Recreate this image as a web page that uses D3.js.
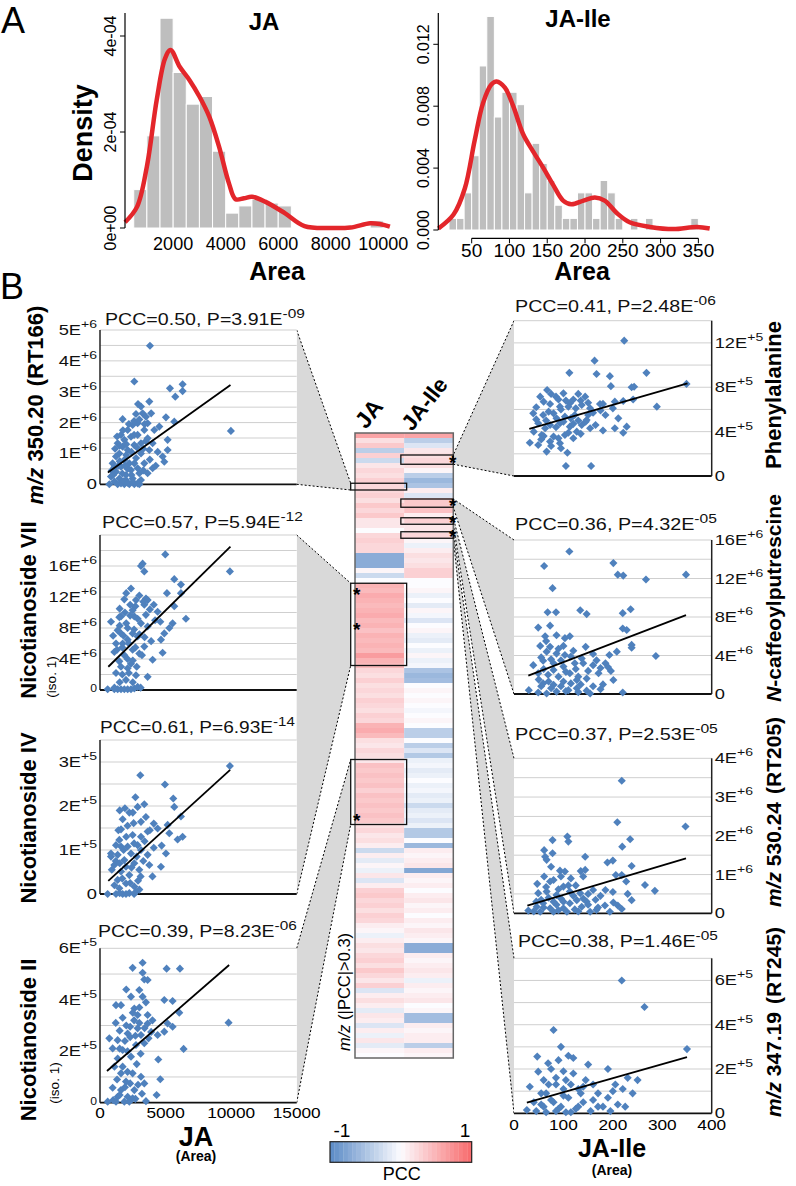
<!DOCTYPE html>
<html>
<head>
<meta charset="utf-8">
<script src="https://cdn.jsdelivr.net/npm/d3@7"></script>
<style>
body { margin: 0; background: #fff; }
svg text { font-family: "Liberation Sans", Arial, Helvetica, sans-serif; }
</style>
</head>
<body>
<svg id="fig" width="796" height="1186"></svg>
<script>
// ---------- panel A data (density: JA in 1e-4, JA-Ile in 1e-3) ----------
var jaBinStart = 500, jaBinWidth = 500;
var jaHist = [0.80, 1.92, 4.37, 3.24, 2.58, 2.74, 1.60, 0.31, 0.46, 0.60, 0.52, 0.46, 0, 0, 0, 0, 0, 0, 0.15];
var jaCurve = [[170,0.12],[625,0.44],[1000,1.28],[1375,2.67],[1690,3.53],[1900,3.71],[2250,3.36],[2625,3.08],[3000,2.74],[3375,2.32],[3750,1.69],[4125,0.93],[4375,0.60],[4700,0.62],[5000,0.65],[5500,0.55],[6250,0.31],[7000,0.04],[8000,0.0],[8750,0.01],[9500,0.10],[9900,0.08],[10250,0.03]];
var jaXTicks = [2000, 4000, 6000, 8000, 10000];
var jaYTicks = [0, 2, 4];
var jaYLabels = ['0e+00', '2e-04', '4e-04'];

var ileBinStart = 20, ileBinWidth = 10;
var ileHist = [0.75, 0.75, 2.4, 4.8, 10.6, 13.8, 7.3, 8.9, 8.9, 8.1, 2.4, 5.6, 4.3, 3.2, 1.6, 0.75, 0.75, 2.4, 2.4, 0.75, 3.2, 2.4, 0.75, 0, 0.75, 0, 0.75, 0, 0, 0, 0, 0, 0.75];
var ileCurve = [[6,0.1],[26,1.0],[41,2.7],[54,5.8],[65,8.2],[76,9.4],[83,9.6],[94,9.2],[105,8.0],[118,6.2],[131,5.1],[145,4.0],[158,2.9],[171,1.9],[182,1.66],[198,1.9],[213,2.1],[226,1.9],[242,1.1],[259,0.5],[286,0.2],[317,0.06],[348,0.2],[365,0.1]];
var ileXTicks = [50, 100, 150, 200, 250, 300, 350];
var ileYTicks = [0, 4, 8, 12];
var ileYLabels = ['0.000', '0.004', '0.008', '0.012'];

// ---------- panel B scatter data ----------
// left: x = JA area, y in units of 1E+6 / 1E+5
var p1Pts = [[3810,4.49],[2616,3.33],[5334,3.11],[6299,3.24],[6299,3.02],[5740,2.84],[3760,2.68],[3124,2.52],[3251,2.30],[2743,2.28],[1727,2.11],[3505,2.19],[5029,2.17],[5664,2.03],[3632,1.98],[2489,1.92],[9982,1.73],[4521,1.87],[3378,1.76],[2108,1.76],[1600,1.60],[2870,1.60],[5156,1.44],[3632,1.49],[1854,1.44],[1346,1.33],[2616,1.27],[5156,1.11],[3760,1.11],[2108,1.11],[1473,1.00],[3124,1.00],[4775,0.90],[4902,0.73],[965,0.68],[1854,0.79],[2616,0.68],[3378,0.68],[4013,0.52],[1600,0.57],[2362,0.46],[1219,0.41],[2997,0.36],[3632,0.36],[1981,0.30],[838,0.25],[1473,0.19],[2489,0.19],[3124,0.14],[1092,0.09],[711,0],[1346,0],[1854,0],[2235,0],[2616,0],[2870,0.03],[1600,0.03],[1219,0.90],[1727,1.22],[2362,1.54],[3124,1.33],[4013,1.33],[4140,1.76],[2870,1.98],[2235,0.68],[2870,0.52],[1981,0.14],
  [1100,0.55],[1500,0.75],[2000,0.95],[2400,1.05],[2750,0.85],[3300,1.15],[1750,1.75],[2200,1.95],[2600,2.05],[3000,2.1],[1300,1.55],[1500,1.25],[900,0.45],[1700,0.35],[2100,0.5],[2400,0.3],[3300,0.45],[3800,0.8],[4400,1.05],[4250,0.6],[1800,0.1],[2100,0.05],[2500,0.08],[3000,0.0],[1000,0.3],[1400,0.6],[2000,1.3],[3400,1.95],[3900,2.3],[2900,2.6],[2600,1.6],[1900,0.6],[2800,1.2],[3500,1.4],[1150,1.15]];
var p2Pts = [[4978,17.5],[3251,16.3],[3124,16.0],[3378,15.3],[9906,15.3],[5664,14.3],[6172,13.6],[2362,13.1],[5105,12.5],[6172,12.5],[1854,11.7],[3505,11.8],[2743,11.6],[3378,11.0],[5664,10.8],[2489,10.3],[4394,10.1],[6553,9.2],[838,8.8],[1473,9.4],[2870,9.2],[5537,8.6],[5283,8.0],[2108,8.0],[3632,8.2],[1600,7.3],[4902,7.3],[2870,6.9],[1219,6.0],[2108,6.5],[3378,5.6],[4648,6.5],[1092,4.9],[2489,5.2],[1854,4.5],[4775,4.8],[4013,3.9],[1473,3.7],[2362,3.4],[2108,2.8],[1219,2.2],[2743,1.9],[3632,1.7],[1981,1.3],[584,0.1],[1092,0.1],[1600,0.1],[2108,0.1],[2616,0.2],[2870,0.4],[1346,0.1],[1854,0.1],[2362,0.1],[1600,9.5],[2616,9.5],[3124,8.6],[1727,6.0],[2997,4.7],[1600,3.0],[2489,7.3],[3632,11.6],[1346,7.7],
  [1500,10.5],[1900,10.0],[2300,9.6],[2700,10.8],[3000,12.2],[3300,11.4],[3800,10.4],[4200,9.0],[2000,8.6],[2600,7.8],[3000,7.2],[3400,6.8],[3900,6.3],[1500,8.3],[1800,7.0],[2200,6.0],[2700,5.5],[3200,4.5],[1300,5.2],[1700,5.5],[2100,4.0],[2500,3.8],[2800,3.0],[1700,2.0],[2200,2.2],[2500,1.0],[1500,1.0],[1100,0.3],[3100,0.3],[2000,12.5],[4600,8.8],[2300,11.0],[1000,7.0],[3500,9.7],[4100,11.0]];
var p3Pts = [[9906,2.91],[3073,2.70],[4953,2.49],[5588,2.17],[5664,1.98],[3378,2.04],[2870,1.98],[2235,1.85],[1727,1.70],[2565,1.61],[4394,1.49],[5156,1.57],[6172,1.76],[6299,1.30],[5918,1.24],[1473,1.23],[3124,1.64],[3632,1.42],[2489,1.34],[3124,1.30],[5283,1.38],[1219,1.11],[2108,1.08],[3124,1.00],[838,0.92],[1346,0.89],[3632,0.89],[5029,0.92],[1854,0.77],[2616,0.70],[1092,0.66],[3760,0.66],[4648,0.62],[2997,0.55],[1600,0.51],[2235,0.43],[1346,0.32],[1981,0.24],[2616,0.17],[1473,0.13],[584,0],[1219,0],[1727,0],[2235,0.02],[2743,0.05],[1981,0],[1600,1.47],[2362,0.92],[1600,1.08],[2870,1.11],[1981,0.62],[838,0.85],
  [1500,1.9],[1900,1.95],[2700,2.2],[3500,1.75],[4100,1.6],[2000,1.3],[2600,1.15],[3400,1.2],[1800,1.0],[2800,0.85],[3300,0.75],[4100,1.05],[1200,0.75],[1500,0.7],[2400,0.6],[3100,0.4],[1700,0.35],[2300,0.25],[2900,0.3],[1100,0.2],[1500,0.02],[2600,0.0],[3000,0.1],[4000,0.4],[4700,1.1],[2100,1.55],[2500,1.85],[900,0.55],[3800,1.45],[1400,1.45]];
var p4Pts = [[3251,5.44],[2489,5.24],[3251,5.05],[5080,5.21],[6096,5.21],[3378,4.79],[3632,4.77],[2997,4.38],[2362,4.12],[3251,4.12],[1219,3.79],[1600,3.79],[4902,3.99],[5537,3.95],[2616,3.66],[1727,3.30],[2870,3.41],[3632,3.41],[6045,3.50],[3632,3.08],[5156,3.08],[9804,3.11],[711,2.50],[1346,2.43],[2108,2.69],[2870,2.89],[3124,2.63],[4394,2.63],[4902,2.76],[5537,2.95],[965,2.11],[1727,2.05],[2743,2.24],[3378,2.31],[6375,2.09],[1346,1.72],[2362,1.79],[4445,1.68],[1727,1.40],[2489,1.14],[3124,1.01],[4597,0.91],[1981,0.82],[965,0.58],[1600,0.49],[2616,0.49],[3378,0.75],[4318,0.30],[1346,0.23],[2108,0.23],[2489,0.17],[584,0.04],[1219,0.04],[1854,0.04],[2235,0.04],[3505,0.06],[1600,1.14],
  [1500,2.8],[2000,3.0],[2300,2.95],[2600,3.2],[3000,3.1],[3400,2.9],[3900,2.75],[1200,3.1],[1900,2.4],[2300,2.55],[2700,2.6],[3700,2.5],[4000,3.2],[1500,2.1],[2100,2.0],[3100,1.9],[1100,1.4],[2100,1.2],[2800,1.5],[1300,0.9],[2300,0.75],[2900,0.7],[1500,0.3],[1900,0.6],[2700,0.15],[3200,0.35],[1000,0.1],[2500,3.5],[3000,3.7],[3500,3.9],[2000,4.4]];
// right: x = JA-Ile area
var r1Pts = [[223,12.2],[163,10.4],[112,9.3],[167,9.2],[194,9.0],[268,9.3],[196,8.1],[238,8.0],[243,8.05],[349,8.3],[67,7.75],[53,7.15],[85,7.15],[100,7.45],[130,7.4],[144,7.15],[241,6.9],[221,6.76],[204,6.70],[174,6.49],[289,6.25],[73,6.49],[93,6.25],[113,6.55],[137,6.40],[154,6.10],[39,5.65],[59,5.50],[80,5.65],[103,5.35],[123,5.50],[147,5.05],[211,5.20],[49,4.75],[73,4.60],[93,4.75],[113,4.45],[137,4.60],[154,4.30],[204,4.30],[228,4.45],[221,3.9],[56,3.7],[80,3.55],[103,3.7],[120,3.4],[32,3.0],[49,2.8],[73,3.1],[66,2.2],[108,2.1],[105,0.9],[156,0.9],[86,5.2],[63,4.3],[110,6.25],[127,4.0],[93,2.95],
  [45,6.2],[60,6.7],[75,7.4],[90,6.9],[105,6.8],[120,6.9],[135,6.8],[150,6.6],[160,5.7],[175,5.9],[185,5.5],[45,5.1],[65,5.0],[85,4.4],[100,4.9],[115,5.2],[130,5.0],[145,4.9],[165,4.6],[180,4.1],[40,4.0],[60,3.6],[90,3.4],[110,3.9],[135,3.8],[55,3.3],[75,2.7],[95,2.5],[120,4.7],[200,6.1],[180,6.5],[70,5.8],[150,5.5],[95,6.0],[125,6.1]];
var r2Pts = [[112,14.8],[61,13.3],[201,13.6],[210,12.4],[221,12.3],[267,11.9],[348,12.4],[78,11.0],[68,8.5],[85,8.5],[134,8.7],[147,8.3],[220,8.4],[236,8.8],[49,6.9],[73,7.1],[220,6.8],[228,6.65],[63,6.0],[86,6.1],[103,5.8],[113,6.0],[53,5.0],[73,4.9],[145,4.9],[238,5.1],[238,4.8],[66,4.4],[86,4.2],[103,4.05],[160,4.15],[193,4.05],[208,4.4],[287,3.95],[39,3.0],[59,3.45],[80,3.2],[100,2.85],[123,3.2],[137,3.7],[167,3.5],[185,3.2],[196,2.4],[171,2.15],[201,1.45],[49,2.15],[69,2.0],[90,1.8],[113,2.15],[127,1.45],[147,1.6],[59,1.1],[80,0.95],[100,1.3],[110,0.4],[30,0.4],[49,0.15],[66,0.05],[86,0.25],[147,0.35],[154,0.05],[220,0.15],[127,0.6],
  [50,1.5],[70,1.3],[95,0.8],[115,1.1],[135,1.0],[160,0.8],[60,2.6],[80,2.5],[105,2.3],[125,2.6],[150,2.4],[175,2.7],[55,3.8],[75,3.6],[95,3.5],[115,3.9],[140,3.2],[160,3.0],[90,4.7],[120,4.5],[105,0.3],[130,0.2],[75,0.6],[180,1.0],[100,5.0],[130,1.8],[65,5.5],[55,0.8],[175,0.5],[190,2.8]];
var r3Pts = [[218,3.42],[209,2.35],[347,2.24],[108,1.98],[110,1.85],[78,1.89],[235,1.91],[219,1.72],[61,1.63],[78,1.55],[63,1.46],[66,1.38],[144,1.46],[189,1.31],[200,1.36],[238,1.22],[93,1.10],[103,1.08],[135,1.09],[144,1.12],[206,0.99],[218,0.99],[61,0.95],[73,0.82],[80,0.86],[265,0.73],[227,0.82],[47,0.76],[285,0.58],[100,0.69],[49,0.52],[66,0.56],[86,0.47],[113,0.56],[134,0.52],[160,0.60],[238,0.34],[201,0.28],[184,0.20],[147,0.30],[127,0.34],[29,0.07],[46,0.17],[59,0.26],[73,0.13],[86,0.22],[100,0.13],[113,0.26],[123,0.10],[137,0.17],[150,0.22],[167,0.09],[194,0.04],[218,0.11],[53,0.04],[80,0.04],[107,0.04],[154,0.04],
  [55,0.35],[70,0.4],[95,0.38],[120,0.45],[140,0.38],[165,0.35],[65,0.68],[90,0.62],[110,0.72],[150,0.5],[175,0.45],[60,0.15],[90,0.08],[130,0.05],[100,0.3],[80,0.3],[45,0.3],[125,0.72],[170,0.15],[200,0.55],[115,0.9],[140,0.95],[75,1.2],[95,0.95],[185,0.6],[40,0.05],[210,0.2],[230,0.5]];
var r4Pts = [[218,6.0],[264,4.8],[80,3.76],[47,2.56],[49,1.88],[69,2.26],[32,1.2],[26,0.15],[95,3.0],[110,2.6],[60,1.5],[85,1.3],[120,1.8],[140,1.2],[100,0.8],[75,0.6],[55,0.4],[90,0.2],[130,0.3],[160,0.6],[200,1.0],[230,1.6],[190,2.0],[170,0.9],[250,1.5],[350,2.9],[150,2.2],[65,0.9],[105,1.5],[45,0.1],[115,0.05],[180,0.3],[210,0.4],
  [40,0.5],[55,0.9],[70,1.3],[85,1.6],[100,1.9],[115,1.3],[130,1.1],[145,1.5],[160,1.3],[60,0.3],[80,0.5],[95,0.3],[110,0.7],[125,0.2],[140,0.5],[155,0.1],[170,0.3],[190,0.7],[205,1.3],[220,1.1],[240,0.9],[90,2.4],[75,2.0],[120,2.5],[100,1.1],[135,0.9],[65,0.05],[85,0.1],[105,0.05],[195,0.1],[225,0.3]];

// regression lines, [x0,y0],[x1,y1]
var p1Fit = [[600,0.38],[9950,3.22]];
var p2Fit = [[635,3.0],[9946,18.5]];
var p3Fit = [[632,0.30],[9924,2.82]];
var p4Fit = [[533,1.23],[9848,5.35]];
var r1Fit = [[31,4.24],[351,8.36]];
var r2Fit = [[29,1.9],[348,8.2]];
var r3Fit = [[27,0.2],[348,1.42]];
var r4Fit = [[26,0.48],[350,2.54]];

// ---------- heatmap PCC values (rows top to bottom) ----------
var heatJA = [0.6,0.2,0.35,-0.4,0.3,-0.3,0.15,0.25,0.2,0.3,0.25,0.25,0.3,0.2,0.35,0.25,0.35,0.15,0.15,0.0,
  0.25,0.3,0.25,0.25,-0.7,-0.7,-0.7,0.05,-0.3,0.0,
  0.5,0.45,0.55,0.5,0.45,0.5,0.55,0.45,0.5,0.4,0.5,0.45,0.5,0.45,0.65,0.5,0.45,
  0.25,0.2,0.3,0.2,0.25,0.2,0.3,0.25,0.2,0.3,0.25,0.5,0.55,0.45,0.2,0.15,0.25,0.2,0.15,
  0.4,0.35,0.4,0.35,0.4,0.3,0.4,0.35,0.4,0.35,0.4,0.35,
  0.2,0.25,0.15,0.2,0.1,-0.3,0.1,-0.15,0.05,-0.1,0.15,-0.2,0.1,0.3,0.35,0.25,0.3,0.2,0.3,0.25,
  0.1,0.05,-0.1,0.1,0.2,0.15,0.25,0.3,0.2,0.35,0.25,0.15,0.3,-0.2,0.1,0.2,0.1,-0.15,0.15,0.1,
  -0.2,0.1,-0.1,0.15,-0.15,0.05,0.0];
var heatIle = [0.6,-0.4,-0.2,0.15,0.2,0.25,0.2,0.05,-0.4,-0.6,-0.5,0.1,-0.2,0.35,0.35,0.4,0.1,0.3,0.15,0.15,
  0.25,0.05,-0.1,0.1,0.2,0.15,0.2,0.3,0.3,0.0,0.0,
  0.05,-0.1,0.0,-0.15,0.05,-0.05,-0.2,0,0.05,-0.1,-0.15,0.0,-0.1,0.05,-0.1,-0.05,
  -0.5,-0.6,-0.55,0.0,0.05,0.0,0.05,0.0,-0.05,0.0,0.05,0.0,-0.4,-0.4,0.0,-0.4,-0.2,-0.45,
  -0.1,-0.05,-0.15,-0.1,0.0,-0.1,-0.05,-0.15,-0.1,-0.3,-0.15,-0.1,-0.2,-0.1,-0.45,-0.45,0.0,-0.6,
  0.1,0.05,0.1,0.15,-0.75,0.1,0.05,0.1,0.0,0.1,0.15,0.05,0.1,0.0,0.1,0.05,0.15,0.1,0.05,
  -0.7,-0.7,0.1,0.05,0.1,0.15,0.1,-0.1,0.1,0.05,0.1,0.15,0.0,0.05,-0.55,-0.55,0.1,0.05,0.1,0.1,-0.4,0.1,0.05];
var heatCols = ['JA', 'JA-Ile'];
// highlighted rows [column, firstRow, lastRow] and asterisk rows
var heatBoxes = [['JA',10.05,11.4],['JA',30.05,46.5],['JA',65.3,78.3],
                 ['JA-Ile',4.4,6.25],['JA-Ile',13.2,14.85],['JA-Ile',16.95,18.25],['JA-Ile',19.75,21.05]];
var heatStars = [['JA',31.7],['JA',38.7],['JA',76.9],['JA-Ile',5.3],['JA-Ile',13.9],['JA-Ile',17.4],['JA-Ile',20.2]];

// ---------- drawing ----------
var svg = d3.select('#fig');

function addSup(t, base, s, supSize, dy) {
  t.append('tspan').text(base);
  t.append('tspan').attr('dy', -(dy || 7)).attr('font-size', supSize).text(s);
}
// place a text at (x,y) and stretch it horizontally (the figure's lettering is wide)
function placeText(t, x, y, sx) {
  t.attr('transform', 'translate(' + x + ',' + y + ') scale(' + sx + ',1)');
}
function fitWidth(t, x, y, w) {
  var bw = t.node().getBBox().width;
  placeText(t, x, y, w / bw);
}

// ---- panel A histograms
function histPanel(o) {
  var x = d3.scaleLinear().domain(o.xDom).range(o.xRange);
  var y = d3.scaleLinear().domain([0, o.yTop]).range([o.yBase, o.yTopPx]);
  var g = svg.append('g');
  g.selectAll('rect').data(o.hist).enter().append('rect')
    .attr('x', function(d, i) { return x(o.binStart + i * o.binWidth); })
    .attr('width', function(d, i) { return x(o.binStart + (i + 1) * o.binWidth) - x(o.binStart + i * o.binWidth); })
    .attr('y', function(d) { return y(d); })
    .attr('height', function(d) { return y(0) - y(d); })
    .attr('fill', '#bebebe').attr('stroke', '#fff').attr('stroke-width', 1)
    .style('display', function(d) { return d > 0 ? null : 'none'; });
  g.append('path').datum(o.curve)
    .attr('d', d3.line().x(function(d) { return x(d[0]); }).y(function(d) { return y(d[1]); }).curve(d3.curveCatmullRom))
    .attr('fill', 'none').attr('stroke', '#e3262b').attr('stroke-width', 4.5);
  g.append('line').attr('x1', o.yAxisX).attr('x2', o.yAxisX).attr('y1', y(0)).attr('y2', o.yLineTop)
    .attr('stroke', '#000').attr('stroke-width', 1.2);
  o.yTicks.forEach(function(v, i) {
    g.append('line').attr('x1', o.yAxisX - 5).attr('x2', o.yAxisX).attr('y1', y(v)).attr('y2', y(v)).attr('stroke', '#000');
    g.append('text').attr('transform', 'translate(' + (o.yAxisX - 9) + ',' + y(v) + ') rotate(-90)')
      .attr('text-anchor', 'middle').attr('font-size', 16).text(o.yLabels[i]);
  });
  if (o.xAxisY) {
    g.append('line').attr('x1', x(o.xTicks[0])).attr('x2', x(o.xTicks[o.xTicks.length - 1]))
      .attr('y1', o.xAxisY).attr('y2', o.xAxisY).attr('stroke', '#000').attr('stroke-width', 1.2);
    o.xTicks.forEach(function(v) {
      g.append('line').attr('x1', x(v)).attr('x2', x(v)).attr('y1', o.xAxisY).attr('y2', o.xAxisY + 5).attr('stroke', '#000');
    });
  }
  o.xTicks.forEach(function(v) {
    g.append('text').attr('x', x(v)).attr('y', o.xLabelY).attr('text-anchor', 'middle')
      .attr('font-size', o.xFont).text(v);
  });
  g.append('text').attr('x', o.titleX).attr('y', o.titleY).attr('text-anchor', 'middle')
    .attr('font-size', 24).attr('font-weight', 'bold').text(o.title);
  g.append('text').attr('x', o.titleX + o.areaDx).attr('y', 280).attr('text-anchor', 'middle')
    .attr('font-size', 25).attr('font-weight', 'bold').text('Area');
}

histPanel({ xDom: [0, 10000], xRange: [120.6, 383.3], yTop: 4, yBase: 228, yTopPx: 36, yLineTop: 13,
  hist: jaHist, binStart: jaBinStart, binWidth: jaBinWidth, curve: jaCurve,
  yAxisX: 125, yTicks: jaYTicks, yLabels: jaYLabels, xTicks: jaXTicks, xAxisY: null, xLabelY: 250, xFont: 18,
  title: 'JA', titleX: 264, titleY: 30, areaDx: 13 });
histPanel({ xDom: [0, 350], xRange: [433.9, 433.9 + 350 * 0.7556], yTop: 12, yBase: 230, yTopPx: 44.3, yLineTop: 13,
  hist: ileHist, binStart: ileBinStart, binWidth: ileBinWidth, curve: ileCurve,
  yAxisX: 438.3, yTicks: ileYTicks, yLabels: ileYLabels, xTicks: ileXTicks, xAxisY: 238.3, xLabelY: 257, xFont: 19,
  title: 'JA-Ile', titleX: 578, titleY: 27, areaDx: 4 });

svg.append('text').attr('transform', 'translate(92,133) rotate(-90)').attr('text-anchor', 'middle')
  .attr('font-size', 27).attr('font-weight', 'bold').text('Density');
svg.append('text').attr('x', 1).attr('y', 33).attr('font-size', 36).text('A');
svg.append('text').attr('x', 0).attr('y', 299).attr('font-size', 36).text('B');

// ---- heatmap geometry
var hy = d3.scaleLinear().domain([0, heatJA.length]).range([433, 1058]);
var hx = d3.scaleBand().domain(heatCols).range([355, 453.3]);
var pccColor = d3.scaleLinear().domain([-1, 0, 1]).range(['#5A8AC6', '#FCFCFF', '#F8696B']);

function boxX(col) {
  return col === 'JA' ? [hx('JA') - 4.3, hx('JA') + hx.bandwidth() + 2.5] : [hx('JA-Ile') - 3.3, hx('JA-Ile') + hx.bandwidth()];
}

// ---- grey linking wedges (drawn first)
var leftEdge = 296.7, rightEdge = 514;
var links = [
  { side: 'L', pTop: 330, pBot: 484.3, box: heatBoxes[0] },
  { side: 'L', pTop: 535, pBot: 894, box: heatBoxes[1] },
  { side: 'L', pTop: 948.3, pBot: 1102.7, box: heatBoxes[2] },
  { side: 'R', pTop: 320.7, pBot: 476, box: heatBoxes[3] },
  { side: 'R', pTop: 540, pBot: 694, box: heatBoxes[4] },
  { side: 'R', pTop: 758.3, pBot: 913.3, box: heatBoxes[5] },
  { side: 'R', pTop: 958.3, pBot: 1113.3, box: heatBoxes[6] }
];
var gLinks = svg.append('g');
links.forEach(function(l) {
  var bx = boxX(l.box[0]);
  var hxEdge = l.side === 'L' ? bx[0] : bx[1];
  var pEdge = l.side === 'L' ? leftEdge : rightEdge;
  var b0 = hy(l.box[1]), b1 = hy(l.box[2]);
  gLinks.append('polygon')
    .attr('points', [[pEdge, l.pTop], [hxEdge, b0], [hxEdge, b1], [pEdge, l.pBot]].join(' '))
    .attr('fill', '#d9d9d9');
  [[l.pTop, b0], [l.pBot, b1]].forEach(function(s) {
    gLinks.append('line').attr('x1', pEdge).attr('y1', s[0]).attr('x2', hxEdge).attr('y2', s[1])
      .attr('stroke', '#000').attr('stroke-width', 1).attr('stroke-dasharray', '2,2');
  });
});

// ---- heatmap cells
var gHeat = svg.append('g');
[heatJA, heatIle].forEach(function(col, ci) {
  gHeat.selectAll('rect.c' + ci).data(col).enter().append('rect')
    .attr('x', hx(heatCols[ci])).attr('width', hx.bandwidth())
    .attr('y', function(d, i) { return hy(i); })
    .attr('height', function(d, i) { return hy(i + 1) - hy(i) + 0.3; })
    .attr('fill', function(d) { return pccColor(d); });
});
gHeat.append('rect').attr('x', 355).attr('y', 433).attr('width', 98.3).attr('height', 625)
  .attr('fill', 'none').attr('stroke', '#666').attr('stroke-width', 1.5);
heatBoxes.forEach(function(b) {
  var bx = boxX(b[0]);
  gHeat.append('rect').attr('x', bx[0]).attr('y', hy(b[1])).attr('width', bx[1] - bx[0]).attr('height', hy(b[2]) - hy(b[1]))
    .attr('fill', 'none').attr('stroke', '#111').attr('stroke-width', 1.3);
});
heatStars.forEach(function(s) {
  var sx = s[0] === 'JA' ? 356.7 : 452.7;
  gHeat.append('text').attr('x', sx).attr('y', hy(s[1]) + 9).attr('text-anchor', 'middle')
    .attr('font-size', 19).attr('font-weight', 'bold').text('*');
});
svg.append('text').attr('transform', 'translate(366,430) rotate(-52)').attr('font-size', 23)
  .attr('font-weight', 'bold').text('JA');
svg.append('text').attr('transform', 'translate(412,432) rotate(-52)').attr('font-size', 22)
  .attr('font-weight', 'bold').text('JA-Ile');
var mzT = svg.append('text').attr('transform', 'translate(350,992) rotate(-90)').attr('text-anchor', 'middle')
  .attr('font-size', 16.5);
mzT.append('tspan').attr('font-style', 'italic').text('m/z');
mzT.append('tspan').text(' (|PCC|>0.3)');

// ---- colour bar
var cbSteps = d3.range(0, 32);
var cbX = d3.scaleLinear().domain([0, 32]).range([330, 471.7]);
svg.selectAll('rect.cb').data(cbSteps).enter().append('rect')
  .attr('x', function(d) { return cbX(d); }).attr('width', cbX(1) - cbX(0) + 0.3)
  .attr('y', 1141.7).attr('height', 20.6)
  .attr('fill', function(d) { return pccColor(-1 + (d + 0.5) * 2 / 32); });
svg.append('rect').attr('x', 330).attr('y', 1141.7).attr('width', 141.7).attr('height', 20.6)
  .attr('fill', 'none').attr('stroke', '#222').attr('stroke-width', 1.2);
svg.append('text').attr('x', 342).attr('y', 1137).attr('text-anchor', 'middle').attr('font-size', 19).text('-1');
svg.append('text').attr('x', 465).attr('y', 1137).attr('text-anchor', 'middle').attr('font-size', 19).text('1');
svg.append('text').attr('x', 401.7).attr('y', 1180).attr('text-anchor', 'middle').attr('font-size', 18).text('PCC');

// ---- scatter panels
function scatter(o) {
  var g = svg.append('g');
  var x = d3.scaleLinear().domain(o.xDom).range(o.xRange);
  var y = d3.scaleLinear().domain([0, o.yMax]).range([o.bottom, o.top]);
  var nGrid = Math.round(o.yMax / o.grid);
  var grid = d3.range(0, nGrid + 1).map(function(i) { return i * o.grid; });
  g.append('rect').attr('x', o.xRange[0]).attr('y', o.top).attr('width', o.xRange[1] - o.xRange[0])
    .attr('height', o.bottom - o.top).attr('fill', '#fff');
  g.selectAll('line.grid').data(grid.slice(1)).enter().append('line')
    .attr('x1', o.xRange[0]).attr('x2', o.xRange[1])
    .attr('y1', function(d) { return y(d); }).attr('y2', function(d) { return y(d); })
    .attr('stroke', '#cfcfcf').attr('stroke-width', 1);
  var axX = o.side === 'L' ? o.xRange[0] : o.xRange[1];
  g.append('line').attr('x1', axX).attr('x2', axX).attr('y1', o.top).attr('y2', o.bottom)
    .attr('stroke', '#222').attr('stroke-width', 1.5);
  g.append('line').attr('x1', o.xRange[0]).attr('x2', o.xRange[1]).attr('y1', o.bottom).attr('y2', o.bottom)
    .attr('stroke', '#111').attr('stroke-width', 1.8);
  // tick labels
  o.labels.forEach(function(v) {
    var t = g.append('text').attr('text-anchor', o.side === 'L' ? 'end' : 'start')
      .attr('font-size', 15).attr('fill', '#111');
    var ly = y(v) + 5;
    if (v === 0) {
      t.attr('font-size', o.zeroSmall ? 10 : 15).text('0');
      if (o.zeroSmall) ly = y(v) + 2;
    } else {
      addSup(t, v + 'E', '+' + o.exp, 11.5, 7);
    }
    placeText(t, o.side === 'L' ? axX - 3 : axX + 3, ly, 1.22);
  });
  // points
  g.selectAll('path.pt').data(o.pts).enter().append('path')
    .attr('d', d3.symbol(d3.symbolSquare, 33)())
    .attr('transform', function(d) { return 'translate(' + x(d[0]) + ',' + y(d[1]) + ') rotate(45)'; })
    .attr('fill', '#4F81BD');
  g.append('line').attr('x1', x(o.fit[0][0])).attr('y1', y(o.fit[0][1]))
    .attr('x2', x(o.fit[1][0])).attr('y2', y(o.fit[1][1]))
    .attr('stroke', '#000').attr('stroke-width', 1.8);
  var tt = g.append('text').attr('font-size', 16.5).attr('fill', '#111');
  addSup(tt, 'PCC=' + o.pcc + ', P=' + o.pm + 'E', o.pe, 13, 7);
  fitWidth(tt, o.titleX, o.titleY, o.titleW);
  // name label
  var nl = g.append('text').attr('transform', 'translate(' + o.nameX + ',' + o.nameY + ') rotate(-90)')
    .attr('text-anchor', 'middle').attr('font-size', o.nameSize || 22).attr('font-weight', 'bold');
  o.name.forEach(function(part) {
    var ts = nl.append('tspan').text(part[0]);
    if (part[1]) ts.attr('font-style', 'italic');
    if (part[2]) ts.attr('dx', part[2]);
  });
  if (o.iso) {
    g.append('text').attr('transform', 'translate(' + o.iso[0] + ',' + o.iso[1] + ') rotate(-90)')
      .attr('text-anchor', 'middle').attr('font-size', 13.5).text('(iso. 1)');
  }
  if (o.xTicks) {
    o.xTicks.forEach(function(v) {
      var t = g.append('text').attr('text-anchor', 'middle').attr('font-size', 15).text(v);
      placeText(t, x(v), o.xTickY, 1.15);
    });
    g.append('text').attr('x', o.xTitle[0]).attr('y', o.xTitle[1]).attr('text-anchor', 'middle')
      .attr('font-size', o.xTitle[3]).attr('font-weight', 'bold').text(o.xTitle[2]);
    g.append('text').attr('x', o.xTitle[0]).attr('y', o.xTitle[1] + o.xTitle[4]).attr('text-anchor', 'middle')
      .attr('font-size', 14).attr('font-weight', 'bold').text('(Area)');
  }
}

var leftX = { xDom: [0, 15000], xRange: [100, 296.7], side: 'L' };
var rightX = { xDom: [0, 400], xRange: [514, 711.7], side: 'R' };
function withX(base, o) { return Object.assign({}, base, o); }

scatter(withX(leftX, { top: 330, bottom: 484.3, yMax: 5, grid: 0.5, labels: [0,1,2,3,4,5], exp: 6,
  pts: p1Pts, fit: p1Fit, pcc: '0.50', pm: '3.91', pe: '-09', titleX: 105, titleY: 325, titleW: 200,
  name: [['m/z', true], [' 350.20'], ['(RT166)', false, 8]], nameX: 43, nameY: 405 }));
scatter(withX(leftX, { top: 535, bottom: 690, yMax: 20, grid: 2, labels: [0,4,8,12,16], exp: 6, zeroSmall: true,
  pts: p2Pts, fit: p2Fit, pcc: '0.57', pm: '5.94', pe: '-12', titleX: 102, titleY: 528, titleW: 201,
  name: [['Nicotianoside VII']], nameX: 36, nameY: 610, iso: [56, 677] }));
scatter(withX(leftX, { top: 740, bottom: 894, yMax: 3.5, grid: 0.5, labels: [0,1,2,3], exp: 5,
  pts: p3Pts, fit: p3Fit, pcc: '0.61', pm: '6.93', pe: '-14', titleX: 100, titleY: 733, titleW: 195,
  name: [['Nicotianoside IV']], nameX: 36, nameY: 818 }));
scatter(withX(leftX, { top: 948.3, bottom: 1102.7, yMax: 6, grid: 1, labels: [0,2,4,6], exp: 5, zeroSmall: true,
  pts: p4Pts, fit: p4Fit, pcc: '0.39', pm: '8.23', pe: '-06', titleX: 98, titleY: 937, titleW: 199,
  name: [['Nicotianoside II']], nameX: 36, nameY: 1040, iso: [59, 1083],
  xTicks: [0, 5000, 10000, 15000], xTickY: 1118, xTitle: [196, 1146, 'JA', 27, 15] }));

scatter(withX(rightX, { top: 320.7, bottom: 476, yMax: 14, grid: 2, labels: [0,4,8,12], exp: 5,
  pts: r1Pts, fit: r1Fit, pcc: '0.41', pm: '2.48', pe: '-06', titleX: 515, titleY: 312, titleW: 201,
  name: [['Phenylalanine']], nameX: 781, nameY: 395 }));
scatter(withX(rightX, { top: 540, bottom: 694, yMax: 16, grid: 2, labels: [0,4,8,12,16], exp: 6,
  pts: r2Pts, fit: r2Fit, pcc: '0.36', pm: '4.32', pe: '-05', titleX: 515, titleY: 530, titleW: 202,
  name: [['N', true], ['-caffeoylputrescine']], nameX: 781, nameY: 598, nameSize: 21 }));
scatter(withX(rightX, { top: 758.3, bottom: 913.3, yMax: 4, grid: 0.5, labels: [0,1,2,3,4], exp: 6,
  pts: r3Pts, fit: r3Fit, pcc: '0.37', pm: '2.53', pe: '-05', titleX: 515, titleY: 740, titleW: 203,
  name: [['m/z', true], [' 530.24'], ['(RT205)', false, 8]], nameX: 781, nameY: 812, nameSize: 21 }));
scatter(withX(rightX, { top: 958.3, bottom: 1113.3, yMax: 7, grid: 1, labels: [0,2,4,6], exp: 5,
  pts: r4Pts, fit: r4Fit, pcc: '0.38', pm: '1.46', pe: '-05', titleX: 518, titleY: 947, titleW: 200,
  name: [['m/z', true], [' 347.19'], ['(RT245)', false, 8]], nameX: 781, nameY: 1022, nameSize: 21,
  xTicks: [0, 100, 200, 300, 400], xTickY: 1130, xTitle: [612, 1157, 'JA-Ile', 25, 18] }));
</script>
</body>
</html>
